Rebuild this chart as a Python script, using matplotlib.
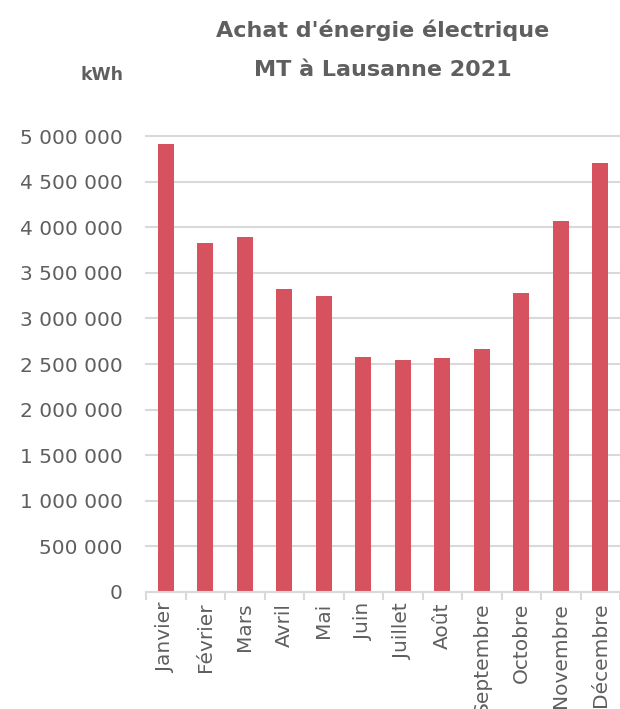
import matplotlib
matplotlib.use("Agg")
import matplotlib.pyplot as plt
from matplotlib.ticker import FuncFormatter, FixedLocator
import numpy as np

months = ["Janvier", "Février", "Mars", "Avril", "Mai", "Juin", "Juillet",
          "Août", "Septembre", "Octobre", "Novembre", "Décembre"]
kwh = [4910000, 3832000, 3898000, 3326000, 3250000, 2579000, 2547000,
       2569000, 2667000, 3282000, 4074000, 4711000]
y_ticks = [0, 500000, 1000000, 1500000, 2000000, 2500000, 3000000,
           3500000, 4000000, 4500000, 5000000]

bar_color = "#d6525f"
text_color = "#5f5f5f"
grid_color = "#d9d9d9"
font = "DejaVu Sans"

fig = plt.figure(figsize=(6.2, 7.09), dpi=100)
ax = fig.add_axes([146 / 620, 1 - 591.7 / 709, 1 - 146 / 620, (591.7 - 136.3) / 709])

x = np.arange(len(months))
ax.bar(x, kwh, width=0.41, color=bar_color, zorder=3)

ax.set_xlim(-0.5, len(months) - 0.5)
ax.set_ylim(0, 5000000)
ax.set_yticks(y_ticks)
ax.yaxis.set_major_formatter(FuncFormatter(lambda v, p: f"{int(v):,}".replace(",", " ")))
ax.grid(axis="y", color=grid_color, linewidth=1.5, zorder=0)
for gl in ax.get_ygridlines():
    gl.set_clip_on(False)

ax.set_xticks(x)
ax.set_xticklabels(months, rotation=90, fontsize=14.5, color=text_color, family=font)
ax.xaxis.set_minor_locator(FixedLocator(np.arange(-0.5, len(months), 1.0)))
ax.tick_params(axis="x", which="major", length=0, pad=8)
ax.tick_params(axis="x", which="minor", length=6, width=1.5, color=grid_color)
ax.tick_params(axis="y", length=0, pad=17, labelsize=14.5, labelcolor=text_color)
for lbl in ax.get_yticklabels():
    lbl.set_family(font)

for side in ("left", "right", "top"):
    ax.spines[side].set_visible(False)
ax.spines["bottom"].set_color(grid_color)
ax.spines["bottom"].set_linewidth(1.5)
ax.spines["bottom"].set_zorder(4)

fig.text(383 / 620, 1 - 30 / 709, "Achat d'énergie électrique", ha="center", va="center",
         fontsize=16, fontweight="bold", color=text_color, family=font)
fig.text(383 / 620, 1 - 70 / 709, "MT à Lausanne 2021", ha="center", va="center",
         fontsize=16, fontweight="bold", color=text_color, family=font)
fig.text(102 / 620, 1 - 75 / 709, "kWh", ha="center", va="center",
         fontsize=12.5, fontweight="bold", color=text_color, family=font)

fig.savefig("out.png", dpi=100)
